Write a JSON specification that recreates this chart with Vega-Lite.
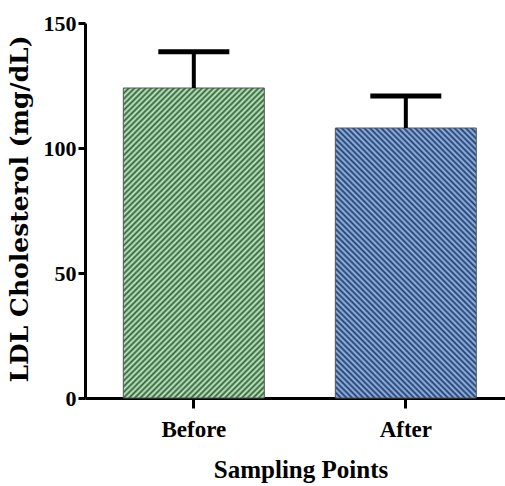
{
  "$schema": "https://vega.github.io/schema/vega-lite/v6.json",
  "width": 420,
  "height": 375,
  "autosize": {"type": "none"},
  "padding": {"left": 85, "top": 23, "right": 0, "bottom": 88},
  "background": "white",
  "config": {"view": {"stroke": null}},
  "data": {
    "values": [
      {"point": "Before", "mean": 124, "upper": 138.5},
      {"point": "After", "mean": 108, "upper": 120.8}
    ]
  },
  "encoding": {
    "x": {
      "field": "point",
      "type": "nominal",
      "sort": ["Before", "After"],
      "scale": {"type": "band", "paddingInner": 0.335, "paddingOuter": 0.158, "align": 0.572},
      "axis": {
        "title": "Sampling Points",
        "labelAngle": 0,
        "labelFont": "Liberation Serif",
        "labelFontWeight": "bold",
        "labelFontSize": 23,
        "labelColor": "black",
        "labelBaseline": "alphabetic",
        "labelPadding": 28.5,
        "tickSize": 10,
        "tickWidth": 3,
        "tickColor": "black",
        "domainWidth": 3,
        "domainColor": "black",
        "titleFont": "Liberation Serif",
        "titleFontWeight": "bold",
        "titleFontSize": 25,
        "titleColor": "black",
        "titleX": 215.5,
        "titleY": 79,
        "titleAlign": "center",
        "titleBaseline": "alphabetic"
      }
    },
    "y": {
      "field": "mean",
      "type": "quantitative",
      "scale": {"domain": [0, 150], "nice": false},
      "axis": {
        "title": "LDL Cholesterol (mg/dL)",
        "values": [0, 50, 100, 150],
        "grid": false,
        "labelFont": "Liberation Serif",
        "labelFontWeight": "bold",
        "labelFontSize": 22,
        "labelColor": "black",
        "labelPadding": 2,
        "tickSize": 7,
        "tickWidth": 3,
        "tickColor": "black",
        "domainWidth": 3,
        "domainColor": "black",
        "titleFont": "DejaVu Serif",
        "titleFontWeight": "bold",
        "titleFontSize": 25,
        "titleColor": "black",
        "titleAngle": 270,
        "titleX": -58,
        "titleY": 185.5,
        "titleAlign": "center",
        "titleBaseline": "alphabetic"
      }
    }
  },
  "layer": [
    {
      "transform": [{"filter": "datum.point === 'Before'"}],
      "mark": {
        "type": "bar",
        "stroke": "#555555",
        "strokeWidth": 1,
        "fill": {
          "gradient": "linear",
          "x1": 0, "y1": 0, "x2": 0.5483, "y2": 1.2055,
          "stops": [
            {"offset": 0, "color": "#3a5a41"}, {"offset": 0.00625, "color": "#bcf4be"}, {"offset": 0.0125, "color": "#3a5a41"}, {"offset": 0.01875, "color": "#bcf4be"}, {"offset": 0.025, "color": "#3a5a41"}, {"offset": 0.03125, "color": "#bcf4be"}, {"offset": 0.0375, "color": "#3a5a41"}, {"offset": 0.04375, "color": "#bcf4be"}, {"offset": 0.05, "color": "#3a5a41"}, {"offset": 0.05625, "color": "#bcf4be"}, {"offset": 0.0625, "color": "#3a5a41"}, {"offset": 0.06875, "color": "#bcf4be"}, {"offset": 0.075, "color": "#3a5a41"}, {"offset": 0.08125, "color": "#bcf4be"}, {"offset": 0.0875, "color": "#3a5a41"}, {"offset": 0.09375, "color": "#bcf4be"},
            {"offset": 0.1, "color": "#3a5a41"}, {"offset": 0.10625, "color": "#bcf4be"}, {"offset": 0.1125, "color": "#3a5a41"}, {"offset": 0.11875, "color": "#bcf4be"}, {"offset": 0.125, "color": "#3a5a41"}, {"offset": 0.13125, "color": "#bcf4be"}, {"offset": 0.1375, "color": "#3a5a41"}, {"offset": 0.14375, "color": "#bcf4be"}, {"offset": 0.15, "color": "#3a5a41"}, {"offset": 0.15625, "color": "#bcf4be"}, {"offset": 0.1625, "color": "#3a5a41"}, {"offset": 0.16875, "color": "#bcf4be"}, {"offset": 0.175, "color": "#3a5a41"}, {"offset": 0.18125, "color": "#bcf4be"}, {"offset": 0.1875, "color": "#3a5a41"}, {"offset": 0.19375, "color": "#bcf4be"},
            {"offset": 0.2, "color": "#3a5a41"}, {"offset": 0.20625, "color": "#bcf4be"}, {"offset": 0.2125, "color": "#3a5a41"}, {"offset": 0.21875, "color": "#bcf4be"}, {"offset": 0.225, "color": "#3a5a41"}, {"offset": 0.23125, "color": "#bcf4be"}, {"offset": 0.2375, "color": "#3a5a41"}, {"offset": 0.24375, "color": "#bcf4be"}, {"offset": 0.25, "color": "#3a5a41"}, {"offset": 0.25625, "color": "#bcf4be"}, {"offset": 0.2625, "color": "#3a5a41"}, {"offset": 0.26875, "color": "#bcf4be"}, {"offset": 0.275, "color": "#3a5a41"}, {"offset": 0.28125, "color": "#bcf4be"}, {"offset": 0.2875, "color": "#3a5a41"}, {"offset": 0.29375, "color": "#bcf4be"},
            {"offset": 0.3, "color": "#3a5a41"}, {"offset": 0.30625, "color": "#bcf4be"}, {"offset": 0.3125, "color": "#3a5a41"}, {"offset": 0.31875, "color": "#bcf4be"}, {"offset": 0.325, "color": "#3a5a41"}, {"offset": 0.33125, "color": "#bcf4be"}, {"offset": 0.3375, "color": "#3a5a41"}, {"offset": 0.34375, "color": "#bcf4be"}, {"offset": 0.35, "color": "#3a5a41"}, {"offset": 0.35625, "color": "#bcf4be"}, {"offset": 0.3625, "color": "#3a5a41"}, {"offset": 0.36875, "color": "#bcf4be"}, {"offset": 0.375, "color": "#3a5a41"}, {"offset": 0.38125, "color": "#bcf4be"}, {"offset": 0.3875, "color": "#3a5a41"}, {"offset": 0.39375, "color": "#bcf4be"},
            {"offset": 0.4, "color": "#3a5a41"}, {"offset": 0.40625, "color": "#bcf4be"}, {"offset": 0.4125, "color": "#3a5a41"}, {"offset": 0.41875, "color": "#bcf4be"}, {"offset": 0.425, "color": "#3a5a41"}, {"offset": 0.43125, "color": "#bcf4be"}, {"offset": 0.4375, "color": "#3a5a41"}, {"offset": 0.44375, "color": "#bcf4be"}, {"offset": 0.45, "color": "#3a5a41"}, {"offset": 0.45625, "color": "#bcf4be"}, {"offset": 0.4625, "color": "#3a5a41"}, {"offset": 0.46875, "color": "#bcf4be"}, {"offset": 0.475, "color": "#3a5a41"}, {"offset": 0.48125, "color": "#bcf4be"}, {"offset": 0.4875, "color": "#3a5a41"}, {"offset": 0.49375, "color": "#bcf4be"},
            {"offset": 0.5, "color": "#3a5a41"}, {"offset": 0.50625, "color": "#bcf4be"}, {"offset": 0.5125, "color": "#3a5a41"}, {"offset": 0.51875, "color": "#bcf4be"}, {"offset": 0.525, "color": "#3a5a41"}, {"offset": 0.53125, "color": "#bcf4be"}, {"offset": 0.5375, "color": "#3a5a41"}, {"offset": 0.54375, "color": "#bcf4be"}, {"offset": 0.55, "color": "#3a5a41"}, {"offset": 0.55625, "color": "#bcf4be"}, {"offset": 0.5625, "color": "#3a5a41"}, {"offset": 0.56875, "color": "#bcf4be"}, {"offset": 0.575, "color": "#3a5a41"}, {"offset": 0.58125, "color": "#bcf4be"}, {"offset": 0.5875, "color": "#3a5a41"}, {"offset": 0.59375, "color": "#bcf4be"},
            {"offset": 0.6, "color": "#3a5a41"}, {"offset": 0.60625, "color": "#bcf4be"}, {"offset": 0.6125, "color": "#3a5a41"}, {"offset": 0.61875, "color": "#bcf4be"}, {"offset": 0.625, "color": "#3a5a41"}, {"offset": 0.63125, "color": "#bcf4be"}, {"offset": 0.6375, "color": "#3a5a41"}, {"offset": 0.64375, "color": "#bcf4be"}, {"offset": 0.65, "color": "#3a5a41"}, {"offset": 0.65625, "color": "#bcf4be"}, {"offset": 0.6625, "color": "#3a5a41"}, {"offset": 0.66875, "color": "#bcf4be"}, {"offset": 0.675, "color": "#3a5a41"}, {"offset": 0.68125, "color": "#bcf4be"}, {"offset": 0.6875, "color": "#3a5a41"}, {"offset": 0.69375, "color": "#bcf4be"},
            {"offset": 0.7, "color": "#3a5a41"}, {"offset": 0.70625, "color": "#bcf4be"}, {"offset": 0.7125, "color": "#3a5a41"}, {"offset": 0.71875, "color": "#bcf4be"}, {"offset": 0.725, "color": "#3a5a41"}, {"offset": 0.73125, "color": "#bcf4be"}, {"offset": 0.7375, "color": "#3a5a41"}, {"offset": 0.74375, "color": "#bcf4be"}, {"offset": 0.75, "color": "#3a5a41"}, {"offset": 0.75625, "color": "#bcf4be"}, {"offset": 0.7625, "color": "#3a5a41"}, {"offset": 0.76875, "color": "#bcf4be"}, {"offset": 0.775, "color": "#3a5a41"}, {"offset": 0.78125, "color": "#bcf4be"}, {"offset": 0.7875, "color": "#3a5a41"}, {"offset": 0.79375, "color": "#bcf4be"},
            {"offset": 0.8, "color": "#3a5a41"}, {"offset": 0.80625, "color": "#bcf4be"}, {"offset": 0.8125, "color": "#3a5a41"}, {"offset": 0.81875, "color": "#bcf4be"}, {"offset": 0.825, "color": "#3a5a41"}, {"offset": 0.83125, "color": "#bcf4be"}, {"offset": 0.8375, "color": "#3a5a41"}, {"offset": 0.84375, "color": "#bcf4be"}, {"offset": 0.85, "color": "#3a5a41"}, {"offset": 0.85625, "color": "#bcf4be"}, {"offset": 0.8625, "color": "#3a5a41"}, {"offset": 0.86875, "color": "#bcf4be"}, {"offset": 0.875, "color": "#3a5a41"}, {"offset": 0.88125, "color": "#bcf4be"}, {"offset": 0.8875, "color": "#3a5a41"}, {"offset": 0.89375, "color": "#bcf4be"},
            {"offset": 0.9, "color": "#3a5a41"}, {"offset": 0.90625, "color": "#bcf4be"}, {"offset": 0.9125, "color": "#3a5a41"}, {"offset": 0.91875, "color": "#bcf4be"}, {"offset": 0.925, "color": "#3a5a41"}, {"offset": 0.93125, "color": "#bcf4be"}, {"offset": 0.9375, "color": "#3a5a41"}, {"offset": 0.94375, "color": "#bcf4be"}, {"offset": 0.95, "color": "#3a5a41"}, {"offset": 0.95625, "color": "#bcf4be"}, {"offset": 0.9625, "color": "#3a5a41"}, {"offset": 0.96875, "color": "#bcf4be"}, {"offset": 0.975, "color": "#3a5a41"}, {"offset": 0.98125, "color": "#bcf4be"}, {"offset": 0.9875, "color": "#3a5a41"}, {"offset": 0.99375, "color": "#bcf4be"},
            {"offset": 1, "color": "#3a5a41"}
          ]
        }
      }
    },
    {
      "transform": [{"filter": "datum.point === 'After'"}],
      "mark": {
        "type": "bar",
        "stroke": "#555555",
        "strokeWidth": 1,
        "fill": {
          "gradient": "linear",
          "x1": 0, "y1": 1, "x2": 0.6854, "y2": -0.3125,
          "stops": [
            {"offset": 0, "color": "#2a3a5c"}, {"offset": 0.00625, "color": "#90befa"}, {"offset": 0.0125, "color": "#2a3a5c"}, {"offset": 0.01875, "color": "#90befa"}, {"offset": 0.025, "color": "#2a3a5c"}, {"offset": 0.03125, "color": "#90befa"}, {"offset": 0.0375, "color": "#2a3a5c"}, {"offset": 0.04375, "color": "#90befa"}, {"offset": 0.05, "color": "#2a3a5c"}, {"offset": 0.05625, "color": "#90befa"}, {"offset": 0.0625, "color": "#2a3a5c"}, {"offset": 0.06875, "color": "#90befa"}, {"offset": 0.075, "color": "#2a3a5c"}, {"offset": 0.08125, "color": "#90befa"}, {"offset": 0.0875, "color": "#2a3a5c"}, {"offset": 0.09375, "color": "#90befa"},
            {"offset": 0.1, "color": "#2a3a5c"}, {"offset": 0.10625, "color": "#90befa"}, {"offset": 0.1125, "color": "#2a3a5c"}, {"offset": 0.11875, "color": "#90befa"}, {"offset": 0.125, "color": "#2a3a5c"}, {"offset": 0.13125, "color": "#90befa"}, {"offset": 0.1375, "color": "#2a3a5c"}, {"offset": 0.14375, "color": "#90befa"}, {"offset": 0.15, "color": "#2a3a5c"}, {"offset": 0.15625, "color": "#90befa"}, {"offset": 0.1625, "color": "#2a3a5c"}, {"offset": 0.16875, "color": "#90befa"}, {"offset": 0.175, "color": "#2a3a5c"}, {"offset": 0.18125, "color": "#90befa"}, {"offset": 0.1875, "color": "#2a3a5c"}, {"offset": 0.19375, "color": "#90befa"},
            {"offset": 0.2, "color": "#2a3a5c"}, {"offset": 0.20625, "color": "#90befa"}, {"offset": 0.2125, "color": "#2a3a5c"}, {"offset": 0.21875, "color": "#90befa"}, {"offset": 0.225, "color": "#2a3a5c"}, {"offset": 0.23125, "color": "#90befa"}, {"offset": 0.2375, "color": "#2a3a5c"}, {"offset": 0.24375, "color": "#90befa"}, {"offset": 0.25, "color": "#2a3a5c"}, {"offset": 0.25625, "color": "#90befa"}, {"offset": 0.2625, "color": "#2a3a5c"}, {"offset": 0.26875, "color": "#90befa"}, {"offset": 0.275, "color": "#2a3a5c"}, {"offset": 0.28125, "color": "#90befa"}, {"offset": 0.2875, "color": "#2a3a5c"}, {"offset": 0.29375, "color": "#90befa"},
            {"offset": 0.3, "color": "#2a3a5c"}, {"offset": 0.30625, "color": "#90befa"}, {"offset": 0.3125, "color": "#2a3a5c"}, {"offset": 0.31875, "color": "#90befa"}, {"offset": 0.325, "color": "#2a3a5c"}, {"offset": 0.33125, "color": "#90befa"}, {"offset": 0.3375, "color": "#2a3a5c"}, {"offset": 0.34375, "color": "#90befa"}, {"offset": 0.35, "color": "#2a3a5c"}, {"offset": 0.35625, "color": "#90befa"}, {"offset": 0.3625, "color": "#2a3a5c"}, {"offset": 0.36875, "color": "#90befa"}, {"offset": 0.375, "color": "#2a3a5c"}, {"offset": 0.38125, "color": "#90befa"}, {"offset": 0.3875, "color": "#2a3a5c"}, {"offset": 0.39375, "color": "#90befa"},
            {"offset": 0.4, "color": "#2a3a5c"}, {"offset": 0.40625, "color": "#90befa"}, {"offset": 0.4125, "color": "#2a3a5c"}, {"offset": 0.41875, "color": "#90befa"}, {"offset": 0.425, "color": "#2a3a5c"}, {"offset": 0.43125, "color": "#90befa"}, {"offset": 0.4375, "color": "#2a3a5c"}, {"offset": 0.44375, "color": "#90befa"}, {"offset": 0.45, "color": "#2a3a5c"}, {"offset": 0.45625, "color": "#90befa"}, {"offset": 0.4625, "color": "#2a3a5c"}, {"offset": 0.46875, "color": "#90befa"}, {"offset": 0.475, "color": "#2a3a5c"}, {"offset": 0.48125, "color": "#90befa"}, {"offset": 0.4875, "color": "#2a3a5c"}, {"offset": 0.49375, "color": "#90befa"},
            {"offset": 0.5, "color": "#2a3a5c"}, {"offset": 0.50625, "color": "#90befa"}, {"offset": 0.5125, "color": "#2a3a5c"}, {"offset": 0.51875, "color": "#90befa"}, {"offset": 0.525, "color": "#2a3a5c"}, {"offset": 0.53125, "color": "#90befa"}, {"offset": 0.5375, "color": "#2a3a5c"}, {"offset": 0.54375, "color": "#90befa"}, {"offset": 0.55, "color": "#2a3a5c"}, {"offset": 0.55625, "color": "#90befa"}, {"offset": 0.5625, "color": "#2a3a5c"}, {"offset": 0.56875, "color": "#90befa"}, {"offset": 0.575, "color": "#2a3a5c"}, {"offset": 0.58125, "color": "#90befa"}, {"offset": 0.5875, "color": "#2a3a5c"}, {"offset": 0.59375, "color": "#90befa"},
            {"offset": 0.6, "color": "#2a3a5c"}, {"offset": 0.60625, "color": "#90befa"}, {"offset": 0.6125, "color": "#2a3a5c"}, {"offset": 0.61875, "color": "#90befa"}, {"offset": 0.625, "color": "#2a3a5c"}, {"offset": 0.63125, "color": "#90befa"}, {"offset": 0.6375, "color": "#2a3a5c"}, {"offset": 0.64375, "color": "#90befa"}, {"offset": 0.65, "color": "#2a3a5c"}, {"offset": 0.65625, "color": "#90befa"}, {"offset": 0.6625, "color": "#2a3a5c"}, {"offset": 0.66875, "color": "#90befa"}, {"offset": 0.675, "color": "#2a3a5c"}, {"offset": 0.68125, "color": "#90befa"}, {"offset": 0.6875, "color": "#2a3a5c"}, {"offset": 0.69375, "color": "#90befa"},
            {"offset": 0.7, "color": "#2a3a5c"}, {"offset": 0.70625, "color": "#90befa"}, {"offset": 0.7125, "color": "#2a3a5c"}, {"offset": 0.71875, "color": "#90befa"}, {"offset": 0.725, "color": "#2a3a5c"}, {"offset": 0.73125, "color": "#90befa"}, {"offset": 0.7375, "color": "#2a3a5c"}, {"offset": 0.74375, "color": "#90befa"}, {"offset": 0.75, "color": "#2a3a5c"}, {"offset": 0.75625, "color": "#90befa"}, {"offset": 0.7625, "color": "#2a3a5c"}, {"offset": 0.76875, "color": "#90befa"}, {"offset": 0.775, "color": "#2a3a5c"}, {"offset": 0.78125, "color": "#90befa"}, {"offset": 0.7875, "color": "#2a3a5c"}, {"offset": 0.79375, "color": "#90befa"},
            {"offset": 0.8, "color": "#2a3a5c"}, {"offset": 0.80625, "color": "#90befa"}, {"offset": 0.8125, "color": "#2a3a5c"}, {"offset": 0.81875, "color": "#90befa"}, {"offset": 0.825, "color": "#2a3a5c"}, {"offset": 0.83125, "color": "#90befa"}, {"offset": 0.8375, "color": "#2a3a5c"}, {"offset": 0.84375, "color": "#90befa"}, {"offset": 0.85, "color": "#2a3a5c"}, {"offset": 0.85625, "color": "#90befa"}, {"offset": 0.8625, "color": "#2a3a5c"}, {"offset": 0.86875, "color": "#90befa"}, {"offset": 0.875, "color": "#2a3a5c"}, {"offset": 0.88125, "color": "#90befa"}, {"offset": 0.8875, "color": "#2a3a5c"}, {"offset": 0.89375, "color": "#90befa"},
            {"offset": 0.9, "color": "#2a3a5c"}, {"offset": 0.90625, "color": "#90befa"}, {"offset": 0.9125, "color": "#2a3a5c"}, {"offset": 0.91875, "color": "#90befa"}, {"offset": 0.925, "color": "#2a3a5c"}, {"offset": 0.93125, "color": "#90befa"}, {"offset": 0.9375, "color": "#2a3a5c"}, {"offset": 0.94375, "color": "#90befa"}, {"offset": 0.95, "color": "#2a3a5c"}, {"offset": 0.95625, "color": "#90befa"}, {"offset": 0.9625, "color": "#2a3a5c"}, {"offset": 0.96875, "color": "#90befa"}, {"offset": 0.975, "color": "#2a3a5c"}, {"offset": 0.98125, "color": "#90befa"}, {"offset": 0.9875, "color": "#2a3a5c"}, {"offset": 0.99375, "color": "#90befa"},
            {"offset": 1, "color": "#2a3a5c"}
          ]
        }
      }
    },
    {
      "mark": {"type": "rule", "color": "black", "strokeWidth": 4},
      "encoding": {
        "y2": {"field": "upper"}
      }
    },
    {
      "mark": {"type": "tick", "color": "black", "opacity": 1, "size": 71, "thickness": 5, "orient": "horizontal"},
      "encoding": {
        "y": {"field": "upper", "type": "quantitative"}
      }
    }
  ]
}
